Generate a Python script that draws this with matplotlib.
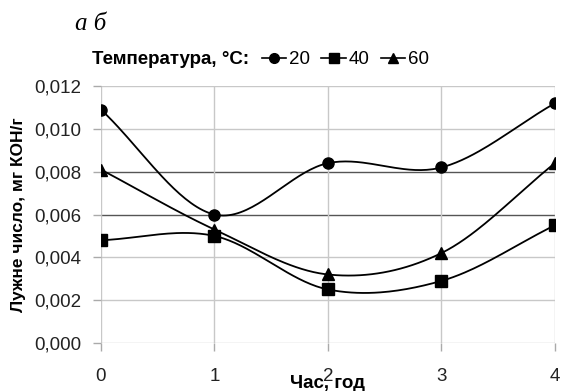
import numpy as np
import matplotlib.pyplot as plt
from matplotlib.lines import Line2D

plt.rcParams['font.family'] = ['Liberation Sans', 'DejaVu Sans']

hours = [0, 1, 2, 3, 4]
temps = ['20', '40', '60']
markers = ['o', 's', '^']
acid = {
    '20': [0.0109, 0.0060, 0.0084, 0.0082, 0.0112],
    '40': [0.0048, 0.0050, 0.0025, 0.0029, 0.0055],
    '60': [0.0081, 0.0053, 0.0032, 0.0042, 0.0084],
}
yticks = [0.000, 0.002, 0.004, 0.006, 0.008, 0.010, 0.012]


def smooth(x, y, n=40):
    # Catmull-Rom curve through the points (like Excel "smoothed line")
    x = np.asarray(x, float)
    y = np.asarray(y, float)
    px = np.concatenate([[2 * x[0] - x[1]], x, [2 * x[-1] - x[-2]]])
    py = np.concatenate([[2 * y[0] - y[1]], y, [2 * y[-1] - y[-2]]])
    xs, ys = [], []
    t = np.linspace(0, 1, n)
    for i in range(1, len(px) - 2):
        for p, out in ((px, xs), (py, ys)):
            p0, p1, p2, p3 = p[i - 1], p[i], p[i + 1], p[i + 2]
            out.append(0.5 * ((2 * p1) + (-p0 + p2) * t
                              + (2 * p0 - 5 * p1 + 4 * p2 - p3) * t ** 2
                              + (-p0 + 3 * p1 - 3 * p2 + p3) * t ** 3))
    return np.concatenate(xs), np.concatenate(ys)


fig = plt.figure(figsize=(5.66, 3.91), dpi=100)
ax = fig.add_axes([0.1784, 0.1228, 0.802, 0.657])

for i, v in enumerate(yticks):
    col = '#555555' if i in (3, 4) else '#c8c8c8'
    ax.axhline(v, color=col, lw=1.0, zorder=1)
for h in hours:
    ax.axvline(h, color='#c8c8c8', lw=1.0, zorder=1)

for t, m in zip(temps, markers):
    sx, sy = smooth(hours, acid[t])
    ax.plot(sx, sy, color='black', lw=1.3, zorder=3)
    ax.plot(hours, acid[t], ls='none', marker=m, color='black', ms=8, zorder=4)

ax.set_xlim(0, 4)
ax.set_ylim(0, 0.012)
ax.set_xticks(hours)
ax.set_yticks(yticks)
ax.set_yticklabels([f'{v:.3f}'.replace('.', ',') for v in yticks])
for s in ax.spines.values():
    s.set_visible(False)
ax.tick_params(axis='both', colors='#aaaaaa', labelcolor='#222222',
               labelsize=13.5, length=6, width=1.0)
ax.tick_params(axis='y', pad=8)
ax.tick_params(axis='x', pad=12)
ax.set_xlabel('Час, год', fontsize=13.5, fontweight='bold', labelpad=-7)
ax.set_ylabel('Лужне число, мг КОН/г', fontsize=12.5, fontweight='bold', labelpad=6)

fig.text(0.1325, 0.923, 'а б', fontsize=18, style='italic',
         family='Liberation Serif', va='baseline')
fig.text(0.1625, 0.847, 'Температура, °С:', fontsize=13.5, fontweight='bold', va='center')
handles = [Line2D([], [], color='black', marker=m, ms=7, lw=1.2) for m in markers]
fig.legend(handles, temps, loc='center left', bbox_to_anchor=(0.463, 0.847), ncol=3,
           frameon=False, fontsize=13.5, handlelength=1.3, handletextpad=0.15,
           columnspacing=0.6, borderpad=0, borderaxespad=0)

fig.savefig('out.png', dpi=100)
